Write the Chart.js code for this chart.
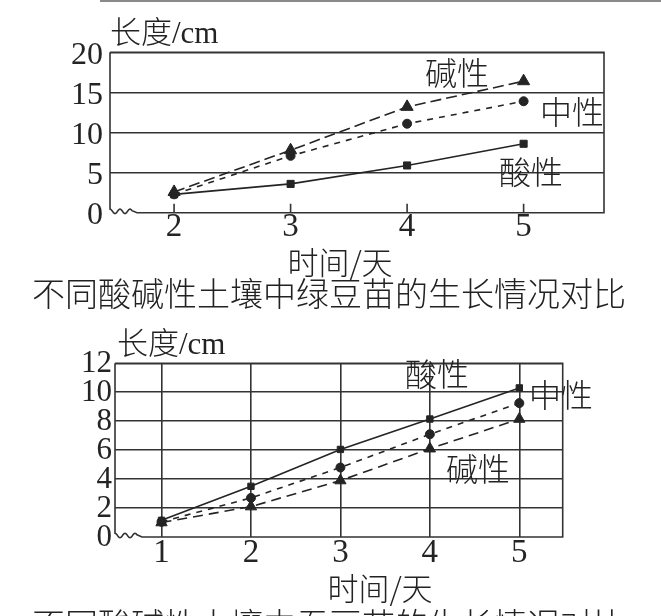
<!DOCTYPE html>
<html>
<head>
<meta charset="utf-8">
<script src="https://cdn.jsdelivr.net/npm/chart.js@4.4.1/dist/chart.umd.min.js"></script>
<style>
  html, body { margin: 0; padding: 0; background: #fff; }
  #wrap { position: relative; width: 661px; height: 616px; overflow: hidden; background: #fff; }
  canvas { position: absolute; left: 0; }
  .t { position: absolute; color: #222; white-space: nowrap; line-height: 1; font-family: "Liberation Serif", "Noto Sans CJK SC", serif; font-weight: 300; }
  .c { transform: translate(-50%, -50%); }
  .l { transform: translate(0, -50%); }
  .cjk { font-family: "Noto Sans CJK SC", sans-serif; font-weight: 300; }
</style>
</head>
<body>
<div id="wrap">
  <div style="position:absolute;left:100px;top:0;width:561px;height:2px;background:#8a8a8a;"></div>
  <canvas id="chartA" width="661" height="305" style="top:0"></canvas>
  <canvas id="chartB" width="661" height="311" style="top:305px"></canvas>

  <div class="t l" style="left:110px;top:32px;font-size:31px;">长度/cm</div>
  <div class="t c cjk" style="left:340px;top:260px;font-size:31px;">时间/天</div>
  <div class="t c cjk" style="left:329px;top:292px;font-size:33px;">不同酸碱性土壤中绿豆苗的生长情况对比</div>
  <div class="t c cjk" style="left:457px;top:71px;font-size:32px;">碱性</div>
  <div class="t c cjk" style="left:572px;top:110px;font-size:32px;">中性</div>
  <div class="t c cjk" style="left:531px;top:170px;font-size:32px;">酸性</div>

  <div class="t l" style="left:117px;top:343px;font-size:31px;">长度/cm</div>
  <div class="t c cjk" style="left:380px;top:586px;font-size:31px;">时间/天</div>
  <div class="t c cjk" style="left:329px;top:623px;font-size:33px;">不同酸碱性土壤中蚕豆苗的生长情况对比</div>
  <div class="t c cjk" style="left:437px;top:372px;font-size:32px;">酸性</div>
  <div class="t c cjk" style="left:561px;top:393px;font-size:32px;">中性</div>
  <div class="t c cjk" style="left:478px;top:467px;font-size:32px;">碱性</div>
</div>
<script>
// ---------- data: chart A (top) ----------
const daysA = [2, 3, 4, 5];
const alkaliA = [2.6, 7.8, 13.2, 16.4];
const neutralA = [2.3, 7.1, 11.1, 13.9];
const acidA = [2.3, 3.6, 5.9, 8.6];
const yTicksA = [0, 5, 10, 15, 20];

// ---------- data: chart B (bottom) ----------
const daysB = [1, 2, 3, 4, 5];
const acidB = [1.15, 3.5, 6.05, 8.15, 10.3];
const neutralB = [1.05, 2.7, 4.8, 7.1, 9.25];
const alkaliB = [1.0, 2.1, 3.9, 6.1, 8.15];
const yTicksB = [0, 2, 4, 6, 8, 10, 12];

const INK = '#242424';
const GRID = '#333333';

function pts(xs, ys) { return xs.map((x, i) => ({ x: x, y: ys[i] })); }

function ds(label, xs, ys, style, radius, dash) {
  return {
    label: label,
    data: pts(xs, ys),
    borderColor: INK,
    backgroundColor: INK,
    borderWidth: 1.6,
    borderDash: dash,
    pointStyle: style,
    pointRadius: radius,
    pointBorderWidth: 1,
    pointBackgroundColor: INK,
    pointBorderColor: INK,
    fill: false,
    tension: 0
  };
}

// frame with axis-break wave at the bottom-left corner
const framePlugin = {
  id: 'frame',
  beforeDatasetsDraw(chart, args, opts) {
    const { ctx, chartArea: a } = chart;
    const L = a.left, R = a.right, T = a.top, B = a.bottom;
    ctx.save();
    ctx.strokeStyle = GRID;
    ctx.lineWidth = 1.6;
    ctx.setLineDash([]);
    ctx.beginPath();
    ctx.moveTo(L, T);
    ctx.lineTo(L, B - 3);
    const waveLen = 22;
    for (let t = 0; t <= waveLen; t += 0.5) {
      const y = B - 1.5 - 2.2 * Math.cos((t / waveLen) * 2 * Math.PI * 2.2);
      ctx.lineTo(L + t, y);
    }
    ctx.lineTo(L + waveLen + 5, B);
    ctx.lineTo(R, B);
    ctx.lineTo(R, T);
    ctx.lineTo(L, T);
    ctx.stroke();
    if (opts && opts.innerTicks) {
      const xs = chart.scales.x;
      ctx.beginPath();
      xs.ticks.forEach(tk => {
        const px = xs.getPixelForValue(tk.value);
        ctx.moveTo(px, B);
        ctx.lineTo(px, B - 9);
      });
      ctx.stroke();
    }
    ctx.restore();
  }
};

function makeChart(id, cfg) {
  const yTicks = cfg.yTicks;
  const xTicks = cfg.xTicks;
  return new Chart(document.getElementById(id), {
    type: 'line',
    data: { datasets: cfg.datasets },
    options: {
      responsive: false,
      animation: false,
      events: [],
      layout: { padding: cfg.padding },
      plugins: {
        legend: { display: false },
        tooltip: { enabled: false },
        title: { display: false },
        frame: { innerTicks: cfg.innerTicks }
      },
      scales: {
        x: {
          type: 'linear',
          min: cfg.xMin,
          max: cfg.xMax,
          border: { display: false },
          grid: {
            display: cfg.xGrid,
            drawTicks: false,
            color: GRID,
            lineWidth: 1.6
          },
          afterBuildTicks: s => { s.ticks = xTicks.map(v => ({ value: v })); },
          afterFit: s => { s.height = 40; },
          ticks: {
            autoSkip: false,
            maxRotation: 0,
            color: INK,
            padding: cfg.xPad,
            font: { family: 'Liberation Serif', size: cfg.xFont, lineHeight: 1 },
            callback: v => String(v)
          }
        },
        y: {
          type: 'linear',
          min: yTicks[0],
          max: yTicks[yTicks.length - 1],
          border: { display: false },
          grid: {
            drawTicks: false,
            lineWidth: 1.6,
            color: c => (c.tick && c.tick.value === 0 ? 'rgba(0,0,0,0)' : GRID)
          },
          afterBuildTicks: s => { s.ticks = yTicks.map(v => ({ value: v })); },
          afterFit: s => { s.width = cfg.yWidth; },
          ticks: {
            autoSkip: false,
            color: INK,
            padding: cfg.yPad,
            labelOffset: cfg.yOff,
            font: { family: 'Liberation Serif', size: cfg.yFont, lineHeight: 1 },
            callback: v => String(v)
          }
        }
      }
    },
    plugins: [framePlugin]
  });
}

makeChart('chartA', {
  datasets: [
    ds('碱性', daysA, alkaliA, 'triangle', 7, [11, 5]),
    ds('中性', daysA, neutralA, 'circle', 4.5, [6, 6]),
    ds('酸性', daysA, acidA, 'rect', 5, [])
  ],
  yTicks: yTicksA,
  xTicks: daysA,
  xMin: 1.45, xMax: 5.69,
  xGrid: false,
  innerTicks: true,
  padding: { left: 0, right: 57, top: 52.3, bottom: 52.2 },
  yWidth: 110, yPad: 7, yOff: 3, xPad: -2, yFont: 32, xFont: 33
});

makeChart('chartB', {
  datasets: [
    ds('酸性', daysB, acidB, 'rect', 4.5, []),
    ds('中性', daysB, neutralB, 'circle', 4.5, [6, 6]),
    ds('碱性', daysB, alkaliB, 'triangle', 6.5, [10, 6])
  ],
  yTicks: yTicksB,
  xTicks: daysB,
  xMin: 0.48, xMax: 5.485,
  xGrid: true,
  innerTicks: false,
  padding: { left: 0, right: 98.3, top: 58.3, bottom: 39 },
  yWidth: 115, yPad: 3, yOff: 1, xPad: 0, yFont: 31, xFont: 33
});
</script>
</body>
</html>
